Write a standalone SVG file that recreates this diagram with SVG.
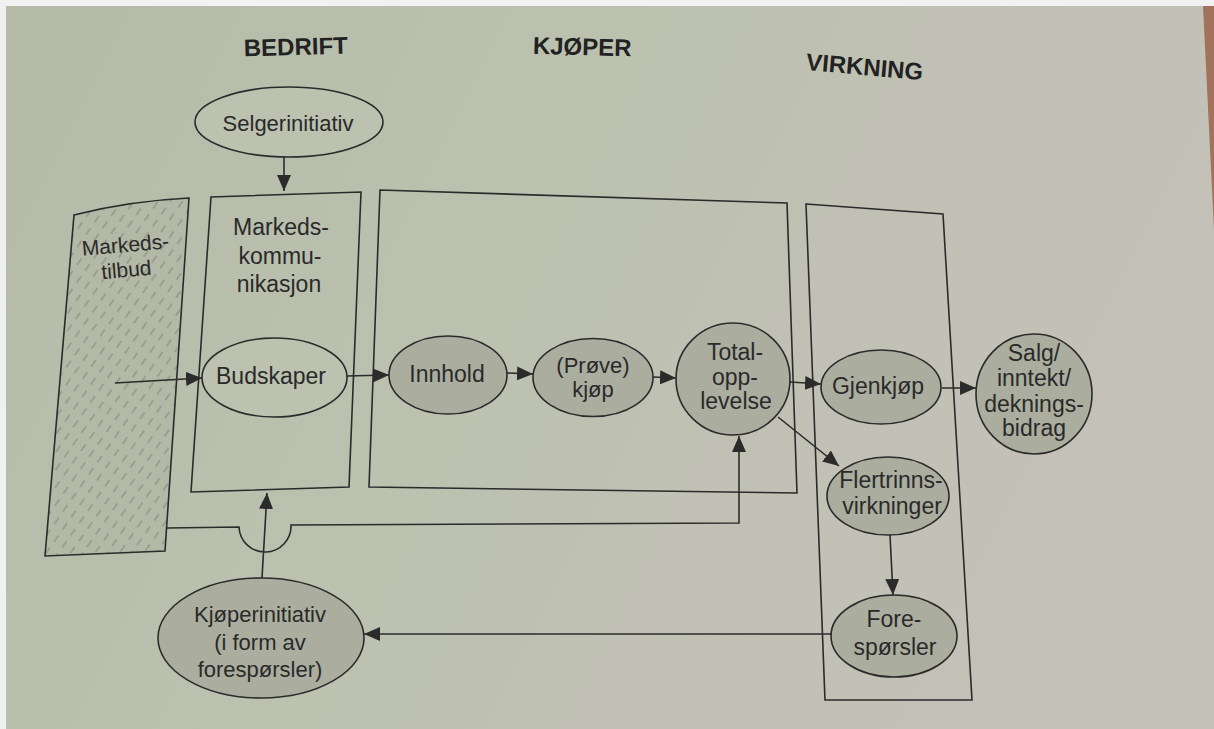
<svg xmlns="http://www.w3.org/2000/svg" width="1214" height="729" viewBox="0 0 1214 729">
<style>
.bg{fill:url(#page)}
.box{fill:none;stroke:#2b2b2b;stroke-width:1.6}
.hatchbox{fill:url(#hatch);stroke:#2b2b2b;stroke-width:1.6}
.light{fill:#bcc1b0;stroke:#2b2b2b;stroke-width:1.6}
.shade{fill:#abae9f;stroke:#2b2b2b;stroke-width:1.6}
.t{font-family:"Liberation Sans",Arial,Helvetica,sans-serif;font-size:23px;fill:#2a2a2a;text-anchor:middle}
.h{font-family:"Liberation Sans",Arial,Helvetica,sans-serif;font-size:24px;font-weight:bold;fill:#222;text-anchor:middle}
.c{fill:none;stroke:#2b2b2b;stroke-width:1.6}
</style>
<defs>
<linearGradient id="page" x1="0" y1="0" x2="1" y2="0.3">
<stop offset="0" stop-color="#b5bba8"/>
<stop offset="0.5" stop-color="#bcc1b0"/>
<stop offset="1" stop-color="#c4c1b8"/>
</linearGradient>
<pattern id="hatch" width="10" height="15" patternUnits="userSpaceOnUse" patternTransform="rotate(35)">
<rect width="10" height="15" fill="#b4b9a7"/>
<line x1="5" y1="0" x2="5" y2="8" stroke="#7b7d73" stroke-width="0.9"/>
</pattern>
<marker id="arr" markerWidth="16" markerHeight="14" refX="16" refY="7" orient="auto" markerUnits="userSpaceOnUse">
<path d="M0,0 L16,7 L0,14 Z" fill="#2b2b2b"/>
</marker>
</defs>

<rect class="bg" x="0" y="0" width="1214" height="729"/>
<rect x="0" y="0" width="1214" height="6" fill="#f2f2f2"/>
<rect x="0" y="0" width="6" height="729" fill="#f0f0f0"/>
<polygon points="1203,6 1214,6 1214,230" fill="#a0735a"/>

<g id="headers">
<text class="h" x="296" y="55" transform="rotate(-1.5 296 55)">BEDRIFT</text>
<text class="h" x="582" y="55" transform="rotate(1.5 582 55)">KJØPER</text>
<text class="h" x="864" y="75" transform="rotate(5 864 75)">VIRKNING</text>
</g>

<g id="markedstilbud">
<path class="hatchbox" d="M74,215 Q128,201 189,198 L165,551 L45,556 Z"/>
<text class="t" x="126" y="252" style="font-size:21px" transform="rotate(-5 126 252)">Markeds-</text>
<text class="t" x="127" y="277" style="font-size:21px" transform="rotate(-5 127 277)">tilbud</text>
</g>

<g id="markedskommunikasjon">
<polygon class="box" points="211,197 361,192 349,487 191,492"/>
<text class="t" x="281" y="235">Markeds-</text>
<text class="t" x="280" y="264">kommu-</text>
<text class="t" x="279" y="292">nikasjon</text>
</g>

<g id="kjoper-box">
<polygon class="box" points="380,190 787,203 797,493 369,487"/>
</g>

<g id="virkning-box">
<polygon class="box" points="806,204 943,214 972,700 825,700"/>
</g>

<g id="selgerinitiativ">
<ellipse class="light" cx="289" cy="122" rx="94" ry="35"/>
<text class="t" x="288" y="131" style="font-size:22px">Selgerinitiativ</text>
</g>

<g id="budskaper">
<ellipse class="light" cx="274.5" cy="377.5" rx="72.5" ry="39.5"/>
<text class="t" x="271" y="384">Budskaper</text>
</g>

<g id="innhold">
<ellipse class="shade" cx="448" cy="375" rx="59" ry="39"/>
<text class="t" x="447" y="382">Innhold</text>
</g>

<g id="provekjop">
<ellipse class="shade" cx="593" cy="377.5" rx="60" ry="39"/>
<text class="t" x="593" y="373" style="font-size:22px">(Prøve)</text>
<text class="t" x="593" y="397" style="font-size:22px">kjøp</text>
</g>

<g id="totalopplevelse">
<ellipse class="shade" cx="733" cy="379" rx="57" ry="56"/>
<text class="t" x="735" y="360">Total-</text>
<text class="t" x="735" y="385">opp-</text>
<text class="t" x="736" y="409">levelse</text>
</g>

<g id="gjenkjop">
<ellipse class="shade" cx="881" cy="387" rx="60" ry="37"/>
<text class="t" x="878" y="394">Gjenkjøp</text>
</g>

<g id="salg">
<ellipse class="shade" cx="1034" cy="394" rx="58" ry="60"/>
<text class="t" x="1034" y="361">Salg/</text>
<text class="t" x="1034" y="386">inntekt/</text>
<text class="t" x="1034" y="412">deknings-</text>
<text class="t" x="1034" y="436">bidrag</text>
</g>

<g id="flertrinns">
<ellipse class="shade" cx="888" cy="496" rx="61" ry="39"/>
<text class="t" x="891" y="488">Flertrinns-</text>
<text class="t" x="892" y="514">virkninger</text>
</g>

<g id="foresporsler">
<ellipse class="shade" cx="894" cy="636" rx="63" ry="41"/>
<text class="t" x="894" y="627">Fore-</text>
<text class="t" x="895" y="655">spørsler</text>
</g>

<g id="kjoperinitiativ">
<ellipse class="shade" cx="261" cy="638" rx="103" ry="60"/>
<text class="t" x="260" y="622" style="font-size:22px">Kjøperinitiativ</text>
<text class="t" x="260" y="650" style="font-size:22px">(i form av</text>
<text class="t" x="260" y="677" style="font-size:22px">forespørsler)</text>
</g>

<g id="connectors">
<line class="c" x1="284" y1="157" x2="284" y2="191" marker-end="url(#arr)"/>
<line class="c" x1="115" y1="383" x2="202" y2="378" marker-end="url(#arr)"/>
<line class="c" x1="347" y1="376" x2="389" y2="375" marker-end="url(#arr)"/>
<line class="c" x1="507" y1="373" x2="533" y2="374" marker-end="url(#arr)"/>
<line class="c" x1="653" y1="377" x2="676" y2="378" marker-end="url(#arr)"/>
<line class="c" x1="790" y1="382" x2="821" y2="384" marker-end="url(#arr)"/>
<line class="c" x1="942" y1="388" x2="976" y2="388" marker-end="url(#arr)"/>
<line class="c" x1="778" y1="417" x2="839" y2="466" marker-end="url(#arr)"/>
<line class="c" x1="890" y1="535" x2="893" y2="595" marker-end="url(#arr)"/>
<line class="c" x1="832" y1="634" x2="364" y2="634" marker-end="url(#arr)"/>
<path class="c" d="M167,528 L239,527 A26,26 0 0 0 291,525 L739,523 L739,436" marker-end="url(#arr)"/>
<line class="c" x1="262" y1="578" x2="267" y2="493" marker-end="url(#arr)"/>
</g>
</svg>
